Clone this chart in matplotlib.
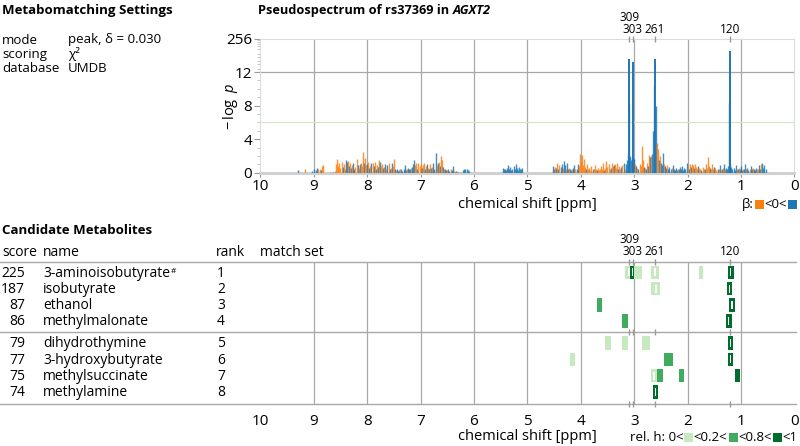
import numpy as np
import matplotlib
matplotlib.use("Agg")
import matplotlib.pyplot as plt
from matplotlib.patches import Rectangle
from matplotlib.lines import Line2D
from matplotlib.transforms import blended_transform_factory, ScaledTranslation

plt.rcParams["font.family"] = ["Open Sans", "DejaVu Sans"]
plt.rcParams["font.size"] = 9.5
plt.rcParams["mathtext.fontset"] = "custom"
plt.rcParams["mathtext.rm"] = "Open Sans"
plt.rcParams["mathtext.it"] = "Open Sans:italic"
plt.rcParams["mathtext.bf"] = "Open Sans:bold"

# ---- data -------------------------------------------------------------
settings_keys = ["mode", "scoring", "database"]
settings_vals = ["peak, δ = 0.030", "χ²", "UMDB"]

# signed -log p per 0.02 ppm bin (positive: beta > 0, negative: beta < 0)
seg_a_start = 9.30
seg_a_logp = [
    0.3, 0, 0, 0, 0,   0, 0, -0.4, 0, 0,   0, 0, 0, 0.2, 0,
    0.4, 0, 0.3, 0.6, -0.4,   0, -0.5, 0.3, -0.8, -0.9,   0, 0, 0, 0, 0,
    -0.1, 0, 0, 0.1, 0,   -0.2, -1.0, -1.6, -0.8, -1.2,   -0.6, -1.3, 0.7, -1.0, -0.5,
    1.5, 1.3, -1.4, 0.8, -1.2,   0.6, -0.9, 1.1, 0.5, -0.7,   -1.6, 0.9, -0.6, 1.0, -1.1,
    -0.8, -2.5, 1.2, -1.7, -0.9,   1.0, -1.3, 0.6, -0.8, 1.1,   -1.1, 0.8, -1.3, 0.5, -0.9,
    0.7, -1.5, 1.3, -0.8, -1.0,   0.6, -0.7, 1.0, -0.5, 0.9,   -1.1, 0.4, -0.6, 1.2, -0.8,
    -1.6, 0.5, -0.3, 0.4, 0.2,   0.3, -0.4, 0.5, 0.2, 0.4,   0.9, 0.3, -0.5, 0.6, 0.4,
    0.5, -0.6, 0.7, 1.0, 1.5,   -0.9, -1.1, 0.5, -1.2, -0.8,   -1.0, 0.6, -0.9, -1.1, 0.4,
    -0.8, 1.0, -0.6, 0.5, -1.0,   0.6, -0.7, 1.2, 0.4, 2.3,   -0.9, 1.2, -1.3, 0.8, -2.0,
    -1.5, 0.7, -0.5, 0.4, 0.3,   -0.3, 0.5, 0.2, -0.4, 0.3,   0.8, -0.2, 0.1, 0.2, -0.1,
    0.1, 0, -0.1, 0, 0,   0.3, 0.5, 0.4, 0.5, 0.3,   0.2,
]
seg_b_start = 5.46
seg_b_logp = [
    0.6, 0.4, 0.5, 0.3, 0.6,   0.9, 0.4, 0.7, 0.3, 0.5,
    0.8, 0.4, 1.0, 0.6, 0.3,   0.7, 0.4, 0.5, 0.6,
]
seg_c_start = 4.52
seg_c_logp = [
    0.8, 0.5, -0.7, 0.6, -1.2,   0.4, -0.9, 0.7, 1.0, -0.6,   1.4, 0.9, -0.5, 1.2, 0.4,
    -0.6, 0.5, 0.3, -0.4, 0.6,   0.9, -0.5, 0.4, 1.0, -0.8,   -2.2, -1.3, -2.1, -0.9, -1.6,
    -0.7, 0.5, -1.0, -0.4, -0.6,   -0.3, -0.8, 0.4, -0.5, -0.9,   -0.4, 0.3, -0.6, -0.3, -0.5,
    -0.8, -0.4, -1.1, 0.3, -0.6,   -1.4, -0.7, -1.0, -0.5, 0.6,   -1.2, -0.8, 0.9, -1.0, -0.6,
    -1.1, 0.5, -0.8, -0.4, 0.7,   -0.9, 1.2, -0.5, 1.0, 1.5,   2.2, 8.2, 2.0, 1.5, 1.8,
    1.9, 1.6, -1.0, 0.8, -0.6,   0.5, -1.0, -0.8, -3.2, -1.5,   0.7, -0.6, 0.5, -1.2, 0.8,
    -2.1, 1.9, -2.0, 2.2, 5.0,   10.5, 8.0, -3.5, -2.8, 1.5,   -2.0, 1.2, 0.9, 2.4, -1.0,
    0.8, 0.6, -0.9, 0.5, 0.7,   0.4, -0.6, 0.9, 0.5, 0.3,   0.6, 0.3, -0.5, 0.4, 0.7,
    0.5, 0.8, 0.3, 0.6, 0.4,   1.2, -0.8, 0.5, -1.0, 0.7,   -1.0, -0.9, 0.6, -1.0, -0.7,
    -0.5, 0.8, -0.6, -0.4, 0.3,   -0.7, -0.4, 0.5, -1.0, -0.6,   -1.9, -0.8, 0.6, -0.5, -1.0,
    -0.4, 0.7, -0.6, -0.3, 0.4,   -0.5, 0.9, -0.3, 0.5, -0.6,   1.0, -0.4, 0.6, 0.5, 0.8,
    8.3, 1.0, 0.7, 0.4, 0.6,   0.3, 0.9, -0.5, 0.4, -0.6,   0.5, 0.8, 0.3, -0.5, 0.4,
    1.0, -0.4, 0.6, 0.3, -0.5,   0.8, 0.4, -0.6, 0.5, 0.3,   0.6, -0.4, -0.5, 0.9, 0.5,
    -1.0, 1.1, 0.6, 0.9, 0.5,
]
bin_step = 0.02

peak_ppm = [3.09, 3.03, 2.61, 1.20]
peak_logp = [41, 30, 41, 82]
peak_labels = ["309", "303", "261", "120"]
peak_label_raised = [True, False, False, False]
sig_threshold = 6.0

scores = [225, 187, 87, 86, 79, 77, 75, 74]
names = ["3-aminoisobutyrate", "isobutyrate", "ethanol", "methylmalonate",
         "dihydrothymine", "3-hydroxybutyrate", "methylsuccinate", "methylamine"]
name_flag = ["#", "", "", "", "", "", "", ""]
ranks = [1, 2, 3, 4, 5, 6, 7, 8]

# match set boxes: row, centre [ppm], width [ppm], rel. h class, matched to peak
box_row = [0, 0, 0, 0, 0, 0, 1, 1, 2, 2, 3, 3, 4, 4, 4, 4, 5, 5, 5, 6, 6, 6, 6, 7]
box_ppm = [3.10, 2.93, 3.035, 2.605, 1.75, 1.19, 2.60, 1.21, 3.65, 1.17, 3.17, 1.23,
           3.49, 3.18, 2.775, 1.20, 4.15, 2.365, 1.20, 2.63, 2.52, 2.115, 1.065, 2.595]
box_w = [0.14, 0.14, 0.08, 0.15, 0.08, 0.10, 0.16, 0.10, 0.10, 0.10, 0.11, 0.11,
         0.11, 0.11, 0.14, 0.10, 0.10, 0.17, 0.10, 0.11, 0.10, 0.11, 0.09, 0.09]
box_cls = [0, 0, 2, 0, 0, 2, 0, 2, 1, 2, 1, 2, 0, 0, 0, 2, 0, 1, 2, 0, 1, 1, 2, 2]
box_match = [1, 0, 1, 1, 0, 1, 1, 1, 0, 1, 0, 1, 0, 0, 0, 1, 0, 0, 1, 1, 0, 0, 0, 1]

# ---- styles -----------------------------------------------------------
BLUE = "#1f77b4"
ORANGE = "#ff7f0e"
GREENS = ["#c7e9c0", "#41ab5d", "#006d2c"]
GRID = "#a8a8a8"
FRAME = "#dcdcdc"
TICKFS = 11
PEAKFS = 8.5
TABFS = 10

W, H = 800, 446
fig = plt.figure(figsize=(W / 100, H / 100), dpi=100)


def fx(px):
    return px / W


def fy(py):
    return 1 - py / H


renderer = fig.canvas.get_renderer()


def chain(parts, x, y, align="left", va="baseline"):
    """place text pieces / colour squares one after another on one line"""
    items = []
    total = 0.0
    for p in parts:
        if isinstance(p, dict):
            t = fig.text(0, fy(y), p["s"], va=va, ha="left",
                         fontsize=p.get("size", 9.5),
                         fontweight=p.get("weight", "normal"),
                         fontstyle=p.get("style", "normal"))
            w = t.get_window_extent(renderer).width
            items.append((t, w))
        else:
            items.append((p, 10.5))
            w = 10.5
        total += w
    x0 = x - total if align == "right" else x
    for obj, w in items:
        if isinstance(obj, str):
            fig.add_artist(Rectangle((fx(x0 + 1), fy(y + 0.5)), fx(9), 9 / H,
                                     transform=fig.transFigure, color=obj, lw=0))
        else:
            obj.set_x(fx(x0))
        x0 += w


# piecewise y scale: linear up to 12, logarithmic from 12 to 256
Y_BREAK, Y_TOP = 12.0, 256.0


def fwd(y):
    y = np.asarray(y, dtype=float)
    return np.where(y > Y_BREAK,
                    Y_BREAK + 4 * np.log(np.maximum(y, Y_BREAK) / Y_BREAK) / np.log(Y_TOP / Y_BREAK), y)


def inv(d):
    d = np.asarray(d, dtype=float)
    return np.where(d > Y_BREAK,
                    Y_BREAK * np.exp((np.maximum(d, Y_BREAK) - Y_BREAK) / 4 * np.log(Y_TOP / Y_BREAK)), d)


# ---- header texts -------------------------------------------------------
fig.text(fx(2), fy(14), "Metabomatching Settings", fontweight="bold", va="baseline")
for i, (k, v) in enumerate(zip(settings_keys, settings_vals)):
    fig.text(fx(2), fy(43.5 + 14.5 * i), k, va="baseline", fontsize=9.5)
    fig.text(fx(68), fy(43.5 + 14.5 * i), v, va="baseline", fontsize=9.5)

chain([{"s": "Pseudospectrum of rs37369 in ", "weight": "bold", "size": 9.2},
       {"s": "AGXT2", "weight": "bold", "style": "italic", "size": 9.2}], 258, 14)

# ---- pseudospectrum -------------------------------------------------------
ax = fig.add_axes([fx(260.4), fy(172.7), fx(534), 134.2 / H])
ax.set_yscale("function", functions=(fwd, inv))
ax.set_xlim(10, 0)
ax.set_ylim(0, 256)

for start, vals in [(seg_a_start, seg_a_logp), (seg_b_start, seg_b_logp),
                    (seg_c_start, seg_c_logp)]:
    vals = np.array(vals)
    ppm = start - bin_step * np.arange(len(vals))
    keep = vals != 0
    ax.vlines(ppm[keep], 0, np.abs(vals[keep]),
              colors=np.where(vals[keep] > 0, BLUE, ORANGE), lw=1.0, alpha=0.85, zorder=3)
ax.vlines(peak_ppm, 0, peak_logp, colors=BLUE, lw=1.4, zorder=4)

for g in range(1, 10):
    ax.axvline(g, color=GRID, lw=0.9, zorder=1)
ax.axhline(12, color=GRID, lw=0.9, zorder=1)
ax.axhline(sig_threshold, color="#cfe8c6", lw=0.8, zorder=1)

ax.set_yticks([0, 4, 8, 12, 256])
ax.set_yticks(list(range(1, 12)) + [16, 24, 32, 48, 64, 96, 128, 160, 192, 224], minor=True)
ax.set_xticks(range(0, 11))
ax.tick_params(axis="y", which="major", length=4, color="#999999", pad=2, labelsize=TICKFS)
ax.tick_params(axis="y", which="minor", length=2.5, color="#bbbbbb")
ax.tick_params(axis="x", length=3, color="#999999", pad=1.5, labelsize=TICKFS)
for s in ["left", "top", "right"]:
    ax.spines[s].set_color(FRAME)
    ax.spines[s].set_linewidth(0.8)
ax.spines["bottom"].set_color("#d0d0d0")
ax.spines["bottom"].set_linewidth(2.2)

ax.plot(peak_ppm, [256] * len(peak_ppm), "|", ms=5, mew=1, color="#999999",
        clip_on=False, zorder=5)
for p, lab, up in zip(peak_ppm, peak_labels, peak_label_raised):
    ax.annotate(lab, xy=(p, 256), xytext=(0, 21 if up else 9.5),
                textcoords="offset pixels", ha="center", va="center", fontsize=PEAKFS)

fig.text(fx(231), fy(106), r"$-\,\log\ p$", rotation=90, ha="center", va="center",
         fontsize=10.5)
fig.text(fx(527), fy(204), "chemical shift [ppm]", ha="center", va="center", fontsize=10.5)
chain([{"s": "β:"}, ORANGE, {"s": "<0<"}, BLUE], 797, 208, align="right")

# ---- candidate metabolites -----------------------------------------------
fig.text(fx(2), fy(234.5), "Candidate Metabolites", fontweight="bold", va="baseline")
for x, s in [(2, "score"), (43, "name"), (216, "rank"), (260, "match set")]:
    fig.text(fx(x), fy(256), s, va="baseline", fontsize=TABFS)

ax2 = fig.add_axes([fx(260.4), fy(403.7), fx(534), 142 / H])
ax2.set_xlim(10, 0)
row_y = [r + 0.65 + 0.35 * (r // 4) for r in range(len(scores))]
sep_y = [0, 4.33, 8.72]
ax2.set_ylim(sep_y[-1], 0)
for s in ax2.spines.values():
    s.set_visible(False)
ax2.set_yticks([])
ax2.set_xticks(range(0, 11))
ax2.tick_params(axis="x", length=0, pad=7.5, labelsize=TICKFS)
for g in range(1, 10):
    ax2.axvline(g, color=GRID, lw=0.9, zorder=1)

trow = blended_transform_factory(fig.transFigure, ax2.transData)
for y in sep_y:
    ax2.add_line(Line2D([0, fx(796)], [y, y], transform=trow, color=GRID, lw=1,
                        clip_on=False, zorder=2))
    ax2.plot(peak_ppm, [y] * len(peak_ppm), "|", ms=5, mew=1, color="#999999",
             clip_on=False, zorder=5)
for p, lab, up in zip(peak_ppm, peak_labels, peak_label_raised):
    ax2.annotate(lab, xy=(p, 0), xytext=(0, 22 if up else 10.5),
                 textcoords="offset pixels", ha="center", va="center", fontsize=PEAKFS)

tdown = trow + ScaledTranslation(0, -4.3 / 100, fig.dpi_scale_trans)
for y, sc, nm, fl, rk in zip(row_y, scores, names, name_flag, ranks):
    ax2.text(fx(25), y, str(sc), transform=tdown, ha="right", va="baseline",
             fontsize=TABFS, clip_on=False)
    t = ax2.text(fx(43), y, nm, transform=tdown, ha="left", va="baseline",
                 fontsize=TABFS, clip_on=False)
    if fl:
        wpx = t.get_window_extent(renderer).width
        ax2.text(fx(43 + wpx + 0.5), y, fl,
                 transform=tdown + ScaledTranslation(0, 4 / 100, fig.dpi_scale_trans),
                 ha="left", va="baseline", fontsize=6, clip_on=False)
    ax2.text(fx(217), y, str(rk), transform=tdown, ha="left", va="baseline",
             fontsize=TABFS, clip_on=False)

box_h = 0.82
for r, c, w, k, m in zip(box_row, box_ppm, box_w, box_cls, box_match):
    y = row_y[r]
    ax2.add_patch(Rectangle((c - w / 2, y - box_h / 2), w, box_h, color=GREENS[k],
                            lw=0, zorder=3))
    if m:
        # matched multiplets get a white slit in the middle
        ax2.add_patch(Rectangle((c - w * 0.12, y - box_h * 0.3), w * 0.24, box_h * 0.6,
                                color="white", lw=0, zorder=4))

fig.text(fx(527), fy(437), "chemical shift [ppm]", ha="center", va="center", fontsize=10.5)
chain([{"s": "rel. h: 0<"}, GREENS[0], {"s": "<0.2<"}, GREENS[1], {"s": "<0.8<"},
       GREENS[2], {"s": "<1"}], 797, 441, align="right")

fig.savefig("out.png", dpi=100)
